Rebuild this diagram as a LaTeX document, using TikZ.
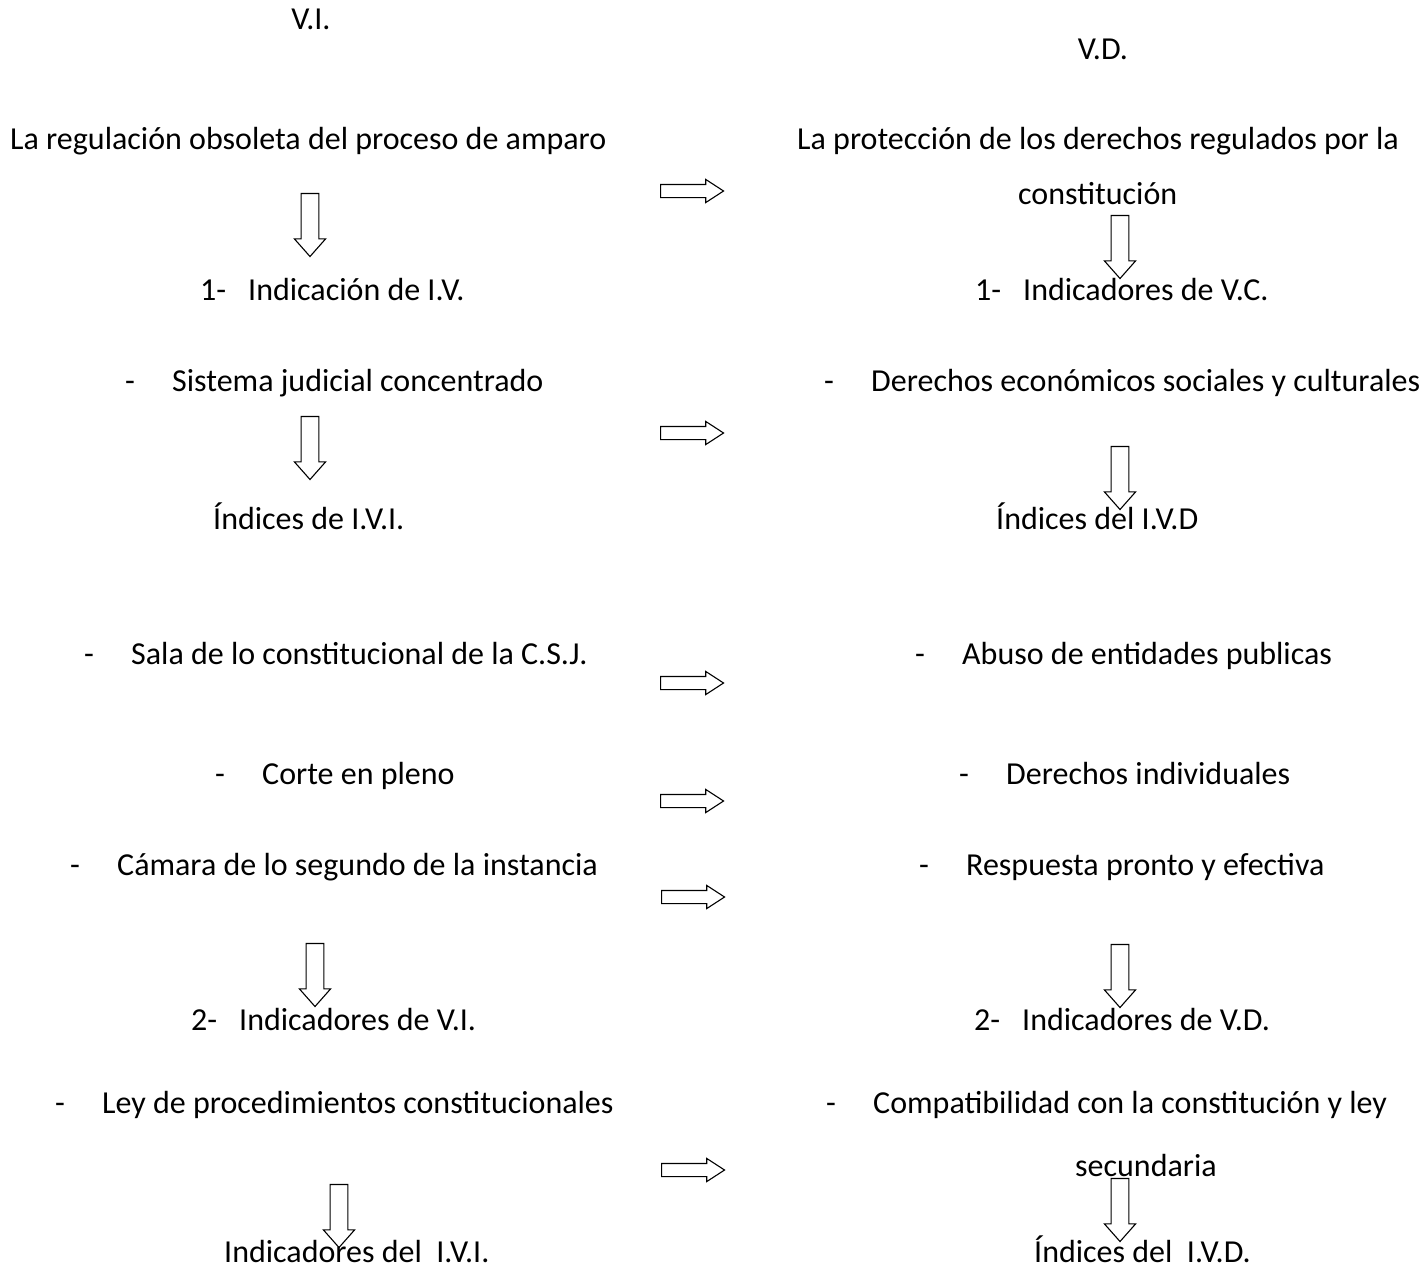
\documentclass[tikz,border=0pt]{standalone}
\usepackage{fontspec}
\setmainfont{Carlito}
\usetikzlibrary{shapes.arrows}
\tikzset{
  lbl/.style = {anchor=base west, inner sep=0pt,
    font=\fontsize{32}{38}\selectfont},% one line of text
  blk/.style = {single arrow, draw=black, fill=white, line width=1.1pt,
    inner xsep=0pt, minimum height=63pt},% hollow block arrow
  rarr/.style = {blk, inner ysep=6pt, single arrow head extend=5pt,
    single arrow tip angle=66},% pointing right
  darr/.style = {blk, inner ysep=8.3pt, single arrow head extend=6.7pt,
    single arrow tip angle=83, rotate=-90}% pointing down
}
\begin{document}
\begin{tikzpicture}[x=1pt,y=-1pt]
\useasboundingbox (0,0) rectangle (1426,1274);
% headings
\node [lbl, anchor=base] (vi) at (311,29) {V.I.};
\node [lbl, anchor=base] (vd) at (1103,59) {V.D.};
% left column
\node [lbl] (reg) at (10,149) {La regulación obsoleta del proceso de amparo};
\node [darr] (dl1) at (310,220) {};
\node [lbl] (n1l) at (200,300) {1-};
\node [lbl] (ind1l) at (248,300) {Indicación de I.V.};
\node [lbl] (dsis) at (125,391) {-};
\node [lbl] (sis) at (172,391) {Sistema judicial concentrado};
\node [darr] (dl2) at (310,443) {};
\node [lbl] (idxl) at (213,529) {Índices de I.V.I.};
\node [lbl] (dsala) at (84,664) {-};
\node [lbl] (sala) at (131,664) {Sala de lo constitucional de la C.S.J.};
\node [lbl] (dcor) at (215,784) {-};
\node [lbl] (cor) at (262,784) {Corte en pleno};
\node [lbl] (dcam) at (70,875) {-};
\node [lbl] (cam) at (117,875) {Cámara de lo segundo de la instancia};
\node [darr] (dl3) at (315,970) {};
\node [lbl] (n2l) at (191,1030) {2-};
\node [lbl] (ind2l) at (239,1030) {Indicadores de V.I.};
\node [lbl] (dley) at (55,1113) {-};
\node [lbl] (ley) at (102,1113) {Ley de procedimientos constitucionales};
\node [darr] (dl4) at (339,1211) {};
\node [lbl] (idl) at (224,1262) {Indicadores del\ \ I.V.I.};
% arrows between the columns
\node [rarr] (r1) at (687,191) {};
\node [rarr] (r2) at (687,433) {};
\node [rarr] (r3) at (687,683) {};
\node [rarr] (r4) at (687,801) {};
\node [rarr] (r5) at (688,897) {};
\node [rarr] (r6) at (688,1170) {};
% right column
\node [lbl] (prot) at (797,149) {La protección de los derechos regulados por la};
\node [lbl] (cons) at (1018,204) {constitución};
\node [darr] (dr1) at (1120,242) {};
\node [lbl] (n1r) at (975,300) {1-};
\node [lbl] (ind1r) at (1023,300) {Indicadores de V.C.};
\node [lbl] (dder) at (824,391) {-};
\node [lbl] (der) at (871,391) {Derechos económicos sociales y culturales};
\node [darr] (dr2) at (1120,473) {};
\node [lbl] (idxr) at (996,529) {Índices del I.V.D};
\node [lbl] (dabu) at (915,664) {-};
\node [lbl] (abu) at (962,664) {Abuso de entidades publicas};
\node [lbl] (ddin) at (959,784) {-};
\node [lbl] (din) at (1006,784) {Derechos individuales};
\node [lbl] (dres) at (919,875) {-};
\node [lbl] (res) at (966,875) {Respuesta pronto y efectiva};
\node [darr] (dr3) at (1120,971) {};
\node [lbl] (n2r) at (974,1030) {2-};
\node [lbl] (ind2r) at (1022,1030) {Indicadores de V.D.};
\node [lbl] (dcomp) at (826,1113) {-};
\node [lbl] (comp) at (873,1113) {Compatibilidad con la constitución y ley};
\node [lbl] (sec) at (1075,1176) {secundaria};
\node [darr] (dr4) at (1120,1205) {};
\node [lbl] (idr) at (1034,1262) {Índices del\ \ I.V.D.};
\end{tikzpicture}
\end{document}
